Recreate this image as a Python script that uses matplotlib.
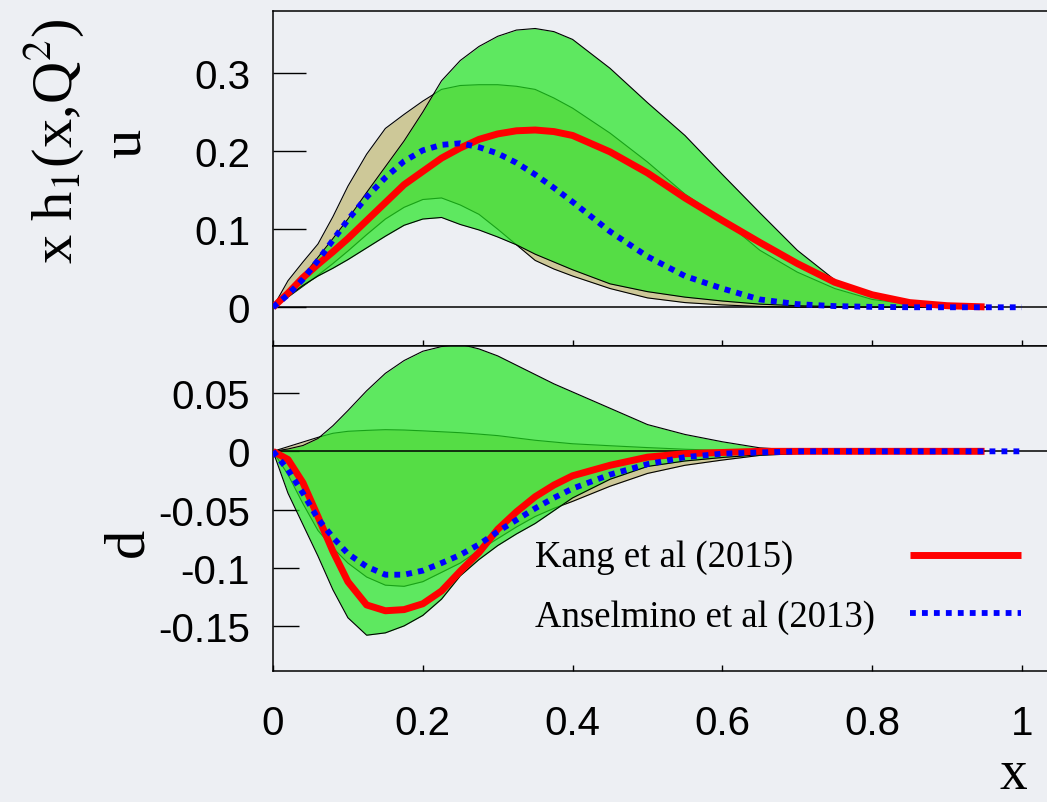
import matplotlib
matplotlib.use("Agg")
import matplotlib.pyplot as plt
from matplotlib.ticker import FixedLocator, FixedFormatter

# ---------------- data ----------------
x_grid = [0, 0.02, 0.04, 0.06, 0.08, 0.10, 0.125, 0.15, 0.175, 0.20, 0.225, 0.25,
          0.275, 0.30, 0.325, 0.35, 0.375, 0.40, 0.45, 0.50, 0.55, 0.60, 0.65, 0.70,
          0.75, 0.80, 0.85, 0.90, 0.95]
x_ans = x_grid + [1.0]

# up quark  (x h1^u)
u_kang = [0, 0.018, 0.038, 0.055, 0.071, 0.088, 0.111, 0.134, 0.157, 0.174, 0.191, 0.204,
          0.215, 0.222, 0.226, 0.227, 0.225, 0.220, 0.199, 0.172, 0.140, 0.111, 0.083, 0.056,
          0.032, 0.016, 0.006, 0.002, 0.0005]
u_ans = [0, 0.016, 0.036, 0.060, 0.086, 0.112, 0.141, 0.166, 0.187, 0.201, 0.208, 0.210,
         0.205, 0.197, 0.185, 0.170, 0.153, 0.135, 0.097, 0.065, 0.040, 0.024, 0.010, 0.004,
         0.0015, 0.0005, 0, 0, 0, 0]
u_kang_hi = [0, 0.019, 0.040, 0.064, 0.088, 0.113, 0.147, 0.180, 0.213, 0.250, 0.290, 0.316,
             0.334, 0.347, 0.355, 0.357, 0.353, 0.343, 0.306, 0.262, 0.220, 0.170, 0.121, 0.073,
             0.035, 0.015, 0.006, 0.002, 0]
u_kang_lo = [0, 0.014, 0.028, 0.040, 0.050, 0.061, 0.076, 0.091, 0.105, 0.113, 0.115, 0.106,
             0.099, 0.090, 0.080, 0.068, 0.058, 0.048, 0.030, 0.020, 0.013, 0.008, 0.004, 0.002,
             0.001, 0, 0, 0, 0]
u_ans_hi = [0, 0.034, 0.058, 0.081, 0.116, 0.155, 0.196, 0.229, 0.247, 0.264, 0.279, 0.284,
            0.285, 0.285, 0.283, 0.279, 0.268, 0.255, 0.223, 0.186, 0.145, 0.113, 0.073, 0.045,
            0.024, 0.010, 0.004, 0.001, 0]
u_ans_lo = [0, 0.013, 0.027, 0.041, 0.056, 0.072, 0.093, 0.113, 0.128, 0.138, 0.140, 0.131,
            0.119, 0.100, 0.080, 0.060, 0.049, 0.040, 0.024, 0.012, 0.006, 0.003, 0.001, 0,
            0, 0, 0, 0, 0]

# down quark (x h1^d)
d_kang = [0, -0.007, -0.027, -0.056, -0.086, -0.112, -0.132, -0.137, -0.136, -0.131, -0.120, -0.103,
          -0.087, -0.067, -0.052, -0.039, -0.029, -0.021, -0.012, -0.005, -0.002, -0.001, 0, 0,
          0, 0, 0, 0, 0]
d_ans = [0, -0.016, -0.036, -0.058, -0.074, -0.088, -0.099, -0.106, -0.106, -0.1025, -0.096, -0.089,
         -0.080, -0.069, -0.059, -0.049, -0.040, -0.032, -0.020, -0.011, -0.005, -0.002, -0.001, 0,
         0, 0, 0, 0, 0, 0]
d_kang_hi = [0, 0.002, 0.005, 0.011, 0.022, 0.035, 0.052, 0.067, 0.078, 0.086, 0.090, 0.092,
             0.088, 0.082, 0.074, 0.066, 0.058, 0.051, 0.037, 0.023, 0.0145, 0.0082, 0.003, 0.001,
             0, 0, 0, 0, 0]
d_kang_lo = [0, -0.036, -0.063, -0.090, -0.119, -0.143, -0.158, -0.156, -0.150, -0.141, -0.127, -0.107,
             -0.093, -0.081, -0.071, -0.062, -0.051, -0.040, -0.024, -0.013, -0.0083, -0.0053, -0.003, -0.0015,
             -0.0005, 0, 0, 0, 0]
d_ans_hi = [0, 0.004, 0.008, 0.012, 0.0155, 0.0172, 0.018, 0.0186, 0.0183, 0.0176, 0.0168, 0.016,
            0.0148, 0.0135, 0.0115, 0.0095, 0.008, 0.0065, 0.0048, 0.0032, 0.0018, 0.0008, 0.0003, 0,
            0, 0, 0, 0, 0]
d_ans_lo = [0, -0.020, -0.045, -0.068, -0.083, -0.096, -0.108, -0.115, -0.116, -0.112, -0.104, -0.096,
            -0.085, -0.075, -0.065, -0.056, -0.049, -0.043, -0.030, -0.019, -0.012, -0.0075, -0.0035, -0.002,
            -0.0008, 0, 0, 0, 0]

series_labels = ["Kang et al (2015)", "Anselmino et al (2013)"]
x_ticks = [0, 0.2, 0.4, 0.6, 0.8, 1.0]
x_ticklabels = ["0", "0.2", "0.4", "0.6", "0.8", "1"]
u_ticks = [0, 0.1, 0.2, 0.3]
u_ticklabels = ["0", "0.1", "0.2", "0.3"]
d_ticks = [-0.15, -0.1, -0.05, 0, 0.05]
d_ticklabels = ["-0.15", "-0.1", "-0.05", "0", "0.05"]

# ---------------- style ----------------
W, H = 1047, 803
BG = "#edeff3"
TAN = "#cdc898"
GREEN = "#22e622"
RED = "#ff0000"
BLUE = "#0000ff"
SANS = "Liberation Sans"
SERIF = "Liberation Serif"
plt.rcParams["mathtext.fontset"] = "stix"

fig = plt.figure(figsize=(W / 100, H / 100), dpi=100)
fig.patch.set_facecolor(BG)


def px_rect(l, t, r, b):
    return [l / W, 1 - b / H, (r - l) / W, (b - t) / H]


ax_u = fig.add_axes(px_rect(273, 12, 1047, 347))
ax_d = fig.add_axes(px_rect(273, 347, 1047, 671.7))
xmax = (1047 - 273) / 749.0


def draw_panel(ax, a_lo, a_hi, k_lo, k_hi, kang, ans):
    ax.set_facecolor(BG)
    ax.fill_between(x_grid, a_lo, a_hi, color=TAN, lw=0, zorder=1)
    ax.plot(x_grid, a_lo, color="black", lw=0.8, zorder=1.5)
    ax.plot(x_grid, a_hi, color="black", lw=0.8, zorder=1.5)
    ax.fill_between(x_grid, k_lo, k_hi, color=GREEN, alpha=0.7, lw=0, zorder=2)
    ax.plot(x_grid, k_lo, color="black", lw=0.8, zorder=2.5)
    ax.plot(x_grid, k_hi, color="black", lw=0.8, zorder=2.5)
    ax.axhline(0, color="black", lw=1.1, zorder=3)
    ax.plot(x_grid, kang, color=RED, lw=5, solid_capstyle="butt",
            solid_joinstyle="round", zorder=4)
    ax.plot(x_ans, ans, color=BLUE, lw=4.2, linestyle=(0, (1, 1.05)),
            dash_capstyle="butt", zorder=5)
    ax.set_xlim(0, xmax)
    ax.spines["right"].set_visible(False)
    for s in ("top", "bottom", "left"):
        ax.spines[s].set_linewidth(1.1)
    ax.xaxis.set_major_locator(FixedLocator(x_ticks))
    ax.tick_params(axis="x", direction="in", length=4.5, width=1.0,
                   top=False, bottom=True, pad=24, labelsize=29)
    ax.tick_params(axis="y", direction="in", width=1.0, right=False, pad=16.5,
                   labelsize=29)


draw_panel(ax_u, u_ans_lo, u_ans_hi, u_kang_lo, u_kang_hi, u_kang, u_ans)
draw_panel(ax_d, d_ans_lo, d_ans_hi, d_kang_lo, d_kang_hi, d_kang, d_ans)

ax_u.set_ylim(-0.0496, 0.3794)
ax_u.yaxis.set_major_locator(FixedLocator(u_ticks))
ax_u.yaxis.set_major_formatter(FixedFormatter(u_ticklabels))
ax_u.tick_params(axis="y", length=23.5)
ax_u.tick_params(axis="x", labelbottom=False)

ax_d.set_ylim(-0.1885, 0.0905)
ax_d.yaxis.set_major_locator(FixedLocator(d_ticks))
ax_d.yaxis.set_major_formatter(FixedFormatter(d_ticklabels))
ax_d.tick_params(axis="y", length=18.5)
ax_d.xaxis.set_major_formatter(FixedFormatter(x_ticklabels))

for ax in (ax_u, ax_d):
    for lab in ax.get_xticklabels() + ax.get_yticklabels():
        lab.set_family(SANS)

# ---------------- legend (text left, key right) ----------------
leg_rows = [(0.3563, 0.3234, dict(color=RED, lw=5, solid_capstyle="butt")),
            (0.1768, 0.1386, dict(color=BLUE, lw=4.2, linestyle=(0, (1, 1.05)),
                                  dash_capstyle="butt"))]
for label, (ly, ty, style) in zip(series_labels, leg_rows):
    ax_d.text(0.3385, ty, label, transform=ax_d.transAxes, family=SERIF,
              fontsize=26.5, ha="left", va="baseline", zorder=6)
    ax_d.plot([0.823, 0.9664], [ly, ly], transform=ax_d.transAxes, zorder=6, **style)

# ---------------- axis labels ----------------
fig.text(73 / W, 1 - 141 / H, r"x h$_{\mathrm{1}}$(x,Q$^{\mathrm{2}}$)", family=SERIF,
         fontsize=42, rotation=90, rotation_mode="anchor", ha="center", va="baseline")
fig.text(140 / W, 1 - 143.5 / H, "u", family=SERIF, fontsize=42, rotation=90,
         rotation_mode="anchor", ha="center", va="baseline")
fig.text(142 / W, 1 - 542.5 / H, "d", family=SERIF, fontsize=42, rotation=90,
         rotation_mode="anchor", ha="center", va="baseline")
fig.text(1013 / W, 1 - 789 / H, "x", family=SERIF, fontsize=40,
         ha="center", va="baseline")

fig.savefig("out.png", dpi=100, facecolor=BG)
